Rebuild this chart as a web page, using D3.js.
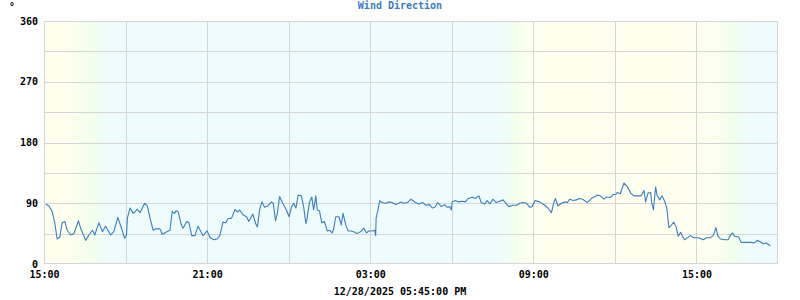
<!DOCTYPE html>
<html>
<head>
<meta charset="utf-8">
<script src="https://cdn.jsdelivr.net/npm/d3@7"></script>
<style>
  html, body { margin: 0; padding: 0; background: #ffffff; }
  svg { display: block; }
  text { font-family: "DejaVu Sans Mono", monospace; font-weight: bold; font-size: 10px; }
</style>
</head>
<body>
<svg id="chart" width="800" height="300"></svg>
<script>
// ---- data ----
const chartTitle = "Wind Direction";
const unitLabel = "°";
const footerLabel = "12/28/2025 05:45:00 PM";
const startTime = "2025-12-27T15:00:00";
const endTime = "2025-12-28T18:00:00";
const yTicks = [0, 90, 180, 270, 360];
const yGrid = [45, 90, 135, 180, 225, 270, 315];
const xLabelHours = [0, 6, 12, 18, 24];          // hours after start: 15:00, 21:00, 03:00, 09:00, 15:00
const xGridHours = [3, 6, 9, 12, 15, 18, 21, 24];

// minutes after 15:00 on 12/27
const minutes = [
  4, 11, 18, 24, 29, 35, 40, 46, 51, 59, 66, 76, 82, 92, 99, 107, 112, 121, 129, 136,
  147, 154, 163, 171, 178, 182, 184, 190, 197, 206, 212, 222, 228, 234, 241, 246, 256, 261, 272, 278,
  283, 288, 292, 296, 303, 307, 315, 320, 326, 333, 340, 351, 360, 367, 375, 382, 388, 395, 401, 406,
  414, 422, 427, 432, 439, 447, 452, 461, 467, 471, 476, 481, 487, 494, 502, 506, 511, 515, 520, 526,
  535, 541, 546, 551, 556, 561, 568, 573, 578, 580, 586, 591, 595, 600, 603, 608, 613, 619, 625, 630,
  636, 639, 644, 651, 656, 660, 666, 671, 678, 686, 691, 699, 706, 712, 717, 724, 730, 732, 733, 737,
  741, 746, 754, 761, 768, 776, 783, 788, 794, 802, 810, 820, 827, 836, 843, 851, 857, 863, 869, 877,
  884, 890, 896, 899, 901, 908, 915, 923, 930, 936, 945, 952, 960, 965, 973, 978, 984, 991, 998, 1006,
  1013, 1026, 1035, 1043, 1050, 1057, 1065, 1072, 1077, 1084, 1094, 1105, 1112, 1120, 1126, 1129, 1134, 1142, 1149, 1155,
  1160, 1168, 1175, 1182, 1189, 1199, 1208, 1221, 1228, 1236, 1241, 1251, 1256, 1262, 1265, 1272, 1280, 1287, 1295, 1302,
  1309, 1318, 1324, 1328, 1333, 1339, 1341, 1345, 1350, 1353, 1359, 1364, 1370, 1375, 1379, 1385, 1390, 1395, 1400, 1405,
  1409, 1414, 1420, 1427, 1434, 1445, 1455, 1462, 1471, 1477, 1483, 1487, 1493, 1504, 1510, 1515, 1520, 1524, 1533, 1539,
  1552, 1561, 1567, 1574, 1581, 1587, 1594, 1603
];
const directions = [
  89, 86, 78, 60, 37, 40, 61, 63, 50, 43, 45, 64, 51, 35, 43, 50, 43, 61, 48, 56,
  43, 48, 69, 53, 38, 43, 68, 83, 75, 81, 76, 90, 86, 68, 50, 52, 52, 44, 48, 50,
  78, 75, 79, 78, 58, 53, 63, 61, 42, 42, 56, 42, 49, 39, 36, 37, 42, 62, 61, 67,
  68, 81, 77, 80, 73, 70, 63, 74, 60, 55, 81, 92, 84, 86, 92, 90, 64, 75, 100, 91,
  80, 70, 84, 90, 83, 102, 101, 85, 60, 65, 92, 99, 80, 101, 80, 79, 61, 63, 49, 50,
  46, 51, 70, 70, 58, 75, 58, 49, 49, 47, 45, 48, 53, 46, 49, 49, 50, 42, 68, 80,
  94, 91, 90, 92, 91, 88, 90, 92, 90, 91, 96, 91, 89, 91, 87, 88, 83, 84, 91, 85,
  88, 84, 85, 80, 92, 94, 92, 93, 92, 97, 99, 97, 101, 91, 89, 94, 89, 96, 91, 93,
  95, 85, 87, 87, 90, 91, 90, 84, 85, 94, 92, 87, 83, 76, 93, 97, 86, 90, 92, 91,
  96, 94, 95, 97, 96, 91, 97, 102, 101, 96, 99, 99, 103, 103, 106, 104, 120, 115, 105, 101,
  101, 101, 109, 92, 105, 106, 92, 80, 114, 102, 95, 101, 93, 81, 54, 58, 62, 55, 41, 47,
  41, 36, 39, 42, 39, 39, 36, 39, 39, 42, 54, 42, 37, 36, 36, 43, 46, 41, 40, 32,
  32, 32, 31, 35, 33, 30, 31, 27
];

// background daylight bands: [hours after start, kind]
const skyHours = [0, 0.83, 1.67, 2.42, 16.75, 17.33, 18.0, 24.5, 25.25, 25.92, 27];
const skyKinds = ["day", "day", "dusk", "night", "night", "dusk", "day", "day", "dusk", "night", "night"];
const skyColors = { day: "#fffff0", dusk: "#f3ffea", night: "#eefcfd" };

// ---- drawing ----
const svg = d3.select("#chart");
const margin = { left: 44, right: 22, top: 21, bottom: 36 };
const W = 800, H = 300;
const t0 = new Date(startTime), t1 = new Date(endTime);
const hrs = h => new Date(t0.getTime() + h * 3600000);

const x = d3.scaleTime().domain([t0, t1]).range([margin.left, W - margin.right]);
const y = d3.scaleLinear().domain([0, 360]).range([H - margin.bottom, margin.top]);

// gradient
const defs = svg.append("defs");
const grad = defs.append("linearGradient").attr("id", "sky")
  .attr("gradientUnits", "userSpaceOnUse")
  .attr("x1", x.range()[0]).attr("x2", x.range()[1]).attr("y1", 0).attr("y2", 0);
const span = x.range()[1] - x.range()[0];
skyHours.forEach((h, i) => {
  grad.append("stop")
    .attr("offset", ((x(hrs(h)) - x.range()[0]) / span))
    .attr("stop-color", skyColors[skyKinds[i]]);
});

svg.append("rect")
  .attr("x", x.range()[0]).attr("y", y(360))
  .attr("width", span).attr("height", y(0) - y(360))
  .attr("fill", "url(#sky)");

const gridColor = "#d6d6d6";
// horizontal grid
svg.append("g").selectAll("line").data(yGrid).join("line")
  .attr("x1", x.range()[0]).attr("x2", x.range()[1])
  .attr("y1", d => Math.round(y(d)) + 0.5).attr("y2", d => Math.round(y(d)) + 0.5)
  .attr("stroke", gridColor).attr("shape-rendering", "crispEdges");
// vertical grid
svg.append("g").selectAll("line").data(xGridHours).join("line")
  .attr("x1", d => Math.round(x(hrs(d))) + 0.5).attr("x2", d => Math.round(x(hrs(d))) + 0.5)
  .attr("y1", y(360)).attr("y2", y(0))
  .attr("stroke", gridColor).attr("shape-rendering", "crispEdges");
// frame
svg.append("rect")
  .attr("x", x.range()[0] + 0.5).attr("y", y(360) + 0.5)
  .attr("width", span - 1).attr("height", y(0) - y(360) - 1)
  .attr("fill", "none").attr("stroke", gridColor).attr("shape-rendering", "crispEdges");

// data line
const pts = minutes.map((m, i) => [new Date(t0.getTime() + m * 60000), directions[i]]);
const line = d3.line().x(d => x(d[0])).y(d => y(d[1]));
svg.append("path").datum(pts)
  .attr("d", line)
  .attr("fill", "none")
  .attr("stroke", "#3b7dbf")
  .attr("stroke-width", 1.1)
  .attr("stroke-linejoin", "round");

// axes (labels only)
const yAxis = d3.axisLeft(y).tickValues(yTicks).tickSize(0).tickPadding(6);
const gy = svg.append("g").attr("transform", `translate(${x.range()[0]},0)`).call(yAxis);
gy.select(".domain").remove();
gy.selectAll("text").attr("fill", "#000").attr("font-family", "DejaVu Sans Mono").attr("font-size", 10).attr("font-weight", "bold");

const xAxis = d3.axisBottom(x).tickValues(xLabelHours.map(hrs)).tickFormat(d3.timeFormat("%H:%M")).tickSize(0).tickPadding(7);
const gx = svg.append("g").attr("transform", `translate(0,${y(0)})`).call(xAxis);
gx.select(".domain").remove();
gx.selectAll("text").attr("fill", "#000").attr("font-family", "DejaVu Sans Mono").attr("font-size", 10).attr("font-weight", "bold");

// title, unit, footer
svg.append("text").attr("x", 400).attr("y", 9).attr("text-anchor", "middle")
  .attr("fill", "#3b7dbf").text(chartTitle);
svg.append("text").attr("x", 12).attr("y", 10).attr("text-anchor", "middle")
  .attr("fill", "#000").text(unitLabel);
svg.append("text").attr("x", 400).attr("y", 295).attr("text-anchor", "middle")
  .attr("fill", "#000").text(footerLabel);
</script>
</body>
</html>
